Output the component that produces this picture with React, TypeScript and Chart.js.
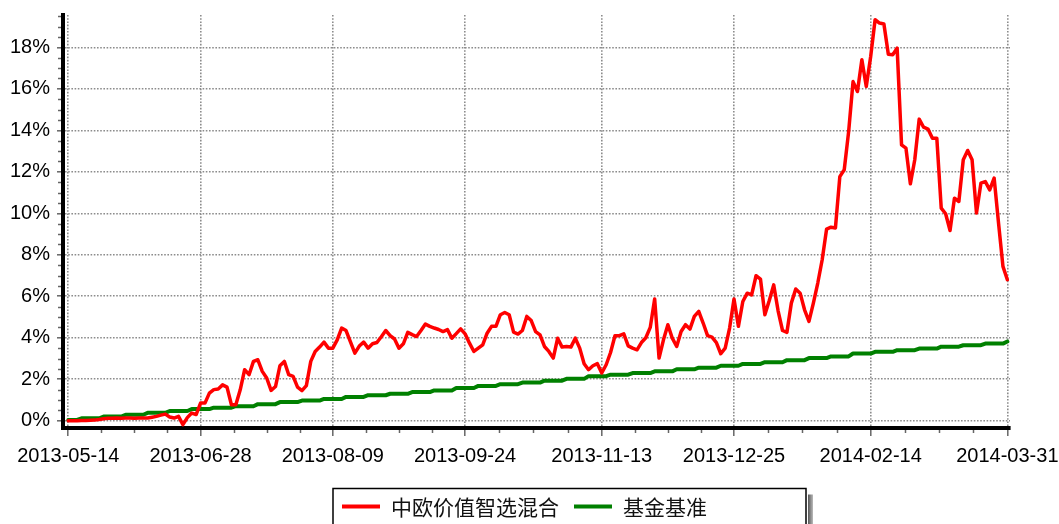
import React, { useEffect, useRef } from 'react';
import { Chart, registerables } from 'chart.js';

Chart.register(...registerables);

const FUND_NAME = '中欧价值智选混合';
const BENCH_NAME = '基金基准';

// trading-day index of each labelled x tick, and its label
const TICK_INDEX = [0, 30, 60, 90, 121, 151, 182, 213];
const TICK_LABELS = ['2013-05-14', '2013-06-28', '2013-08-09', '2013-09-24', '2013-11-13', '2013-12-25', '2014-02-14', '2014-03-31'];
const Y_TICKS = [0, 2, 4, 6, 8, 10, 12, 14, 16, 18];

// cumulative return (%) per trading day
const FUND = [
  0, 0, 0, 0.01, 0.01, 0.02, 0.03, 0.06, 0.1, 0.12,
  0.12, 0.13, 0.12, 0.13, 0.13, 0.12, 0.13, 0.13, 0.13, 0.17,
  0.21, 0.27, 0.32, 0.18, 0.13, 0.21, -0.19, 0.15, 0.37, 0.3,
  0.85, 0.85, 1.33, 1.5, 1.53, 1.73, 1.62, 0.77, 0.77, 1.49,
  2.46, 2.22, 2.86, 2.94, 2.38, 2.06, 1.46, 1.65, 2.65, 2.86,
  2.22, 2.14, 1.62, 1.45, 1.69, 2.86, 3.34, 3.55, 3.79, 3.5,
  3.5, 3.9, 4.47, 4.35, 3.8, 3.26, 3.6, 3.79, 3.5, 3.71,
  3.77, 4.05, 4.35, 4.1, 3.94, 3.5, 3.71, 4.26, 4.15, 4.06,
  4.35, 4.66, 4.55, 4.47, 4.4, 4.3, 4.39, 3.98, 4.2, 4.43,
  4.19, 3.74, 3.34, 3.5, 3.66, 4.22, 4.55, 4.55, 5.11, 5.22,
  5.11, 4.27, 4.18, 4.35, 5.03, 4.83, 4.3, 4.14, 3.58, 3.34,
  3.02, 3.98, 3.55, 3.58, 3.55, 3.98, 3.5, 2.75, 2.46, 2.65,
  2.75, 2.3, 2.7, 3.29, 4.1, 4.1, 4.19, 3.61, 3.5, 3.42,
  3.77, 4.0, 4.5, 5.87, 3.02, 3.9, 4.63, 3.98, 3.58, 4.3,
  4.63, 4.42, 5.03, 5.27, 4.71, 4.1, 4.03, 3.77, 3.23, 3.5,
  4.47, 5.87, 4.55, 5.75, 6.15, 6.07, 6.99, 6.83, 5.11, 5.8,
  6.55, 5.3, 4.35, 4.26, 5.67, 6.35, 6.15, 5.35, 4.79, 5.67,
  6.64, 7.76, 9.24, 9.33, 9.29, 11.77, 12.1, 13.94, 16.35, 15.87,
  17.4, 16.11, 17.56, 19.33, 19.17, 19.13, 17.67, 17.64, 17.96, 13.3,
  13.14, 11.42, 12.58, 14.54, 14.15, 14.06, 13.62, 13.62, 10.25, 9.98,
  9.17, 10.73, 10.57, 12.58, 13.03, 12.58, 10.01, 11.45, 11.53, 11.13,
  11.7, 9.53, 7.44, 6.8,
];

const BENCH = [
  0.04, 0.04, 0.04,
  0.12, 0.12, 0.12, 0.12, 0.12,
  0.2, 0.2, 0.2, 0.2, 0.2,
  0.29, 0.29, 0.29, 0.29, 0.29,
  0.38, 0.38, 0.38, 0.38, 0.38,
  0.47, 0.47, 0.47, 0.47, 0.47,
  0.56, 0.56, 0.56, 0.56, 0.56,
  0.63, 0.63, 0.63, 0.63, 0.63,
  0.7, 0.7, 0.7, 0.7, 0.7,
  0.8, 0.8, 0.8, 0.8, 0.8,
  0.9, 0.9, 0.9, 0.9, 0.9,
  0.97, 0.97, 0.97, 0.97, 0.97,
  1.05, 1.05, 1.05, 1.05, 1.05,
  1.15, 1.15, 1.15, 1.15, 1.15,
  1.23, 1.23, 1.23, 1.23, 1.23,
  1.3, 1.3, 1.3, 1.3, 1.3,
  1.38, 1.38, 1.38, 1.38, 1.38,
  1.46, 1.46, 1.46, 1.46, 1.46,
  1.58, 1.58, 1.58, 1.58, 1.58,
  1.68, 1.68, 1.68, 1.68, 1.68,
  1.76, 1.76, 1.76, 1.76, 1.76,
  1.84, 1.84, 1.84, 1.84, 1.84,
  1.93, 1.93, 1.93, 1.93, 1.93,
  2.02, 2.02, 2.02, 2.02, 2.02,
  2.15, 2.15, 2.15, 2.15, 2.15,
  2.22, 2.22, 2.22, 2.22, 2.22,
  2.3, 2.3, 2.3, 2.3, 2.3,
  2.38, 2.38, 2.38, 2.38, 2.38,
  2.48, 2.48, 2.48, 2.48, 2.48,
  2.56, 2.56, 2.56, 2.56, 2.56,
  2.65, 2.65, 2.65, 2.65, 2.65,
  2.74, 2.74, 2.74, 2.74, 2.74,
  2.82, 2.82, 2.82, 2.82, 2.82,
  2.92, 2.92, 2.92, 2.92, 2.92,
  3.02, 3.02, 3.02, 3.02, 3.02,
  3.1, 3.1, 3.1, 3.1, 3.1,
  3.24, 3.24, 3.24, 3.24, 3.24,
  3.32, 3.32, 3.32, 3.32, 3.32,
  3.4, 3.4, 3.4, 3.4, 3.4,
  3.48, 3.48, 3.48, 3.48, 3.48,
  3.57, 3.57, 3.57, 3.57, 3.57,
  3.64, 3.64, 3.64, 3.64, 3.64,
  3.72, 3.72, 3.72, 3.72, 3.72,
  3.82,
];

const LATIN = '"Liberation Sans", Arial, sans-serif';
const CJK = '"Noto Sans CJK SC", "Noto Sans", sans-serif';

const decorPlugin = {
  id: 'decor',
  afterDraw(chart: any) {
    const ctx = chart.ctx;
    const xs = chart.scales.x;
    const ys = chart.scales.y;
    const area = chart.chartArea;
    ctx.save();
    // minor ticks
    ctx.strokeStyle = '#666';
    ctx.lineWidth = 1.5;
    for (let i = 0; i < TICK_INDEX.length - 1; i++) {
      const a = xs.getPixelForValue(TICK_INDEX[i]);
      const b = xs.getPixelForValue(TICK_INDEX[i + 1]);
      for (let k = 1; k < 4; k++) {
        const px = Math.round(a + ((b - a) * k) / 4) + 0.5;
        ctx.beginPath();
        ctx.moveTo(px, area.bottom + 2);
        ctx.lineTo(px, area.bottom + 5);
        ctx.stroke();
      }
    }
    for (let v = 0.5; v < ys.max; v += 0.5) {
      if (Math.abs(v % 2) < 1e-6) continue;
      const py = Math.round(ys.getPixelForValue(v)) + 0.5;
      ctx.beginPath();
      ctx.moveTo(area.left - 2, py);
      ctx.lineTo(area.left - 5, py);
      ctx.stroke();
    }
    // legend box
    const bx = 333, by = 488.5, bw = 473;
    const grad = ctx.createLinearGradient(bx + bw + 2, 0, bx + bw + 7, 0);
    grad.addColorStop(0, '#555');
    grad.addColorStop(1, '#bbb');
    ctx.fillStyle = grad;
    ctx.fillRect(bx + bw + 2, by + 6, 5, 40);
    ctx.fillStyle = '#ffffff';
    ctx.fillRect(bx, by, bw, 40);
    ctx.strokeStyle = '#000';
    ctx.lineWidth = 1.5;
    ctx.strokeRect(bx, by, bw, 60);
    let x = bx + 9;
    const ly = 506.5;
    ctx.font = '21px ' + CJK;
    ctx.textBaseline = 'middle';
    ctx.textAlign = 'left';
    chart.data.datasets.forEach((ds: any) => {
      ctx.strokeStyle = ds.borderColor;
      ctx.lineWidth = 4;
      ctx.lineCap = 'butt';
      ctx.beginPath();
      ctx.moveTo(x, ly);
      ctx.lineTo(x + 38, ly);
      ctx.stroke();
      ctx.fillStyle = '#111';
      ctx.fillText(ds.label, x + 49, ly + 1);
      x += 49 + ctx.measureText(ds.label).width + 15;
    });
    ctx.restore();
  },
};

export default function App() {
  const ref = useRef<HTMLCanvasElement>(null);
  useEffect(() => {
    const fundPts = FUND.map((v, i) => ({ x: i, y: v }));
    const benchPts = BENCH.map((v, i) => ({ x: i, y: v }));
    const chart = new Chart(ref.current as HTMLCanvasElement, {
      type: 'line',
      data: {
        datasets: [
          {
            label: FUND_NAME,
            data: fundPts,
            borderColor: '#ff0000',
            borderWidth: 3.5,
            pointRadius: 0,
            tension: 0,
            fill: false,
            borderJoinStyle: 'round',
            borderCapStyle: 'round',
          },
          {
            label: BENCH_NAME,
            data: benchPts,
            borderColor: '#008000',
            borderWidth: 4,
            pointRadius: 0,
            tension: 0,
            fill: false,
            borderJoinStyle: 'round',
            borderCapStyle: 'round',
          },
        ],
      },
      options: {
        animation: false,
        responsive: false,
        devicePixelRatio: 1,
        events: [],
        layout: { padding: { top: 15, right: 49, left: 0, bottom: 0 } },
        plugins: { legend: { display: false }, tooltip: { enabled: false } },
        scales: {
          x: {
            type: 'linear',
            min: -1.2,
            max: 213.6,
            afterBuildTicks: (s: any) => {
              s.ticks = TICK_INDEX.map((v) => ({ value: v }));
            },
            afterFit: (s: any) => {
              s.height = 96;
              s.paddingLeft = 0;
              s.paddingRight = 0;
            },
            ticks: {
              autoSkip: false,
              maxRotation: 0,
              minRotation: 0,
              padding: 8.5,
              color: '#000',
              font: { family: LATIN, size: 20 },
              callback: (v: any) => {
                const i = TICK_INDEX.indexOf(Number(v));
                return i >= 0 ? TICK_LABELS[i] : '';
              },
            },
            grid: {
              color: '#8c8c8c',
              lineWidth: 1.6,
              tickLength: 8,
              tickColor: '#666',
              tickWidth: 1.5,
            },
            border: { display: true, color: '#000', width: 4, dash: [1.6, 1.6] },
          },
          y: {
            type: 'linear',
            min: -0.35,
            max: 19.56,
            afterBuildTicks: (s: any) => {
              s.ticks = Y_TICKS.map((v) => ({ value: v }));
            },
            afterFit: (s: any) => {
              s.width = 63;
              s.paddingTop = 0;
              s.paddingBottom = 0;
            },
            ticks: {
              padding: 7,
              color: '#000',
              font: { family: LATIN, size: 20 },
              callback: (v: any) => v + '%',
            },
            grid: {
              color: '#8c8c8c',
              lineWidth: 1.6,
              tickLength: 6,
              tickColor: '#666',
              tickWidth: 1.5,
            },
            border: { display: true, color: '#000', width: 4, dash: [1.6, 1.6] },
          },
        },
      },
      plugins: [decorPlugin],
    } as any);
    return () => chart.destroy();
  }, []);
  return (
    <div style={{ position: 'fixed', left: 0, top: 0, width: 1059, height: 524, background: '#fff' }}>
      <canvas ref={ref} width={1059} height={524} style={{ display: 'block' }} />
    </div>
  );
}
